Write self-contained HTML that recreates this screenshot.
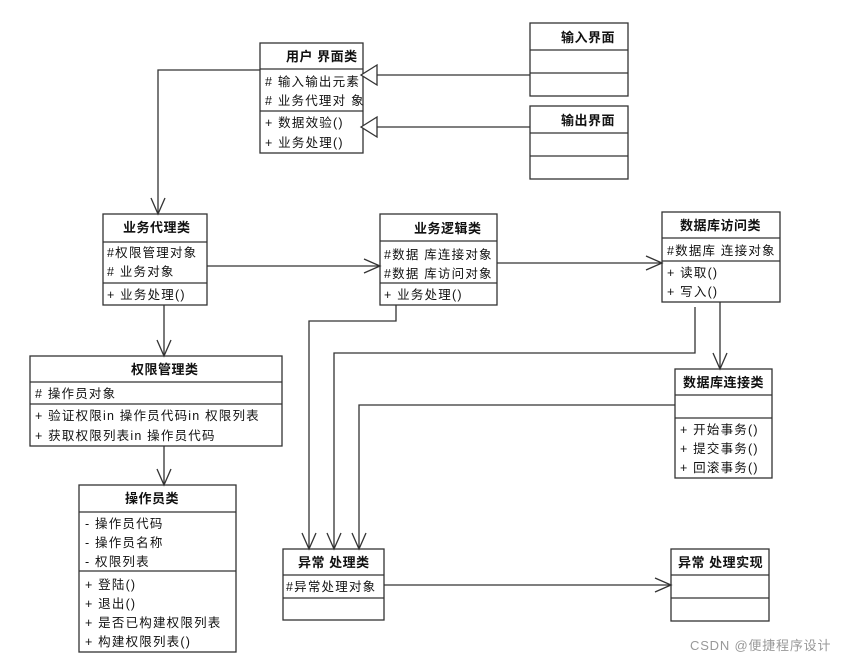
<!DOCTYPE html>
<html><head><meta charset="utf-8"><style>
html,body{margin:0;padding:0;background:#fff;}
svg text{font-family:"Liberation Sans","Noto Sans CJK SC",sans-serif;font-size:12.5px;fill:#111;letter-spacing:1.2px;}
svg text.h{font-weight:bold;font-size:13px;letter-spacing:0.5px;}
</style></head><body>
<svg width="847" height="661" viewBox="0 0 847 661" xmlns="http://www.w3.org/2000/svg">
<g fill="none" stroke="#333" stroke-width="1.3">
<rect x="260" y="43" width="103" height="110"/><line x1="260" y1="69" x2="363" y2="69"/><line x1="260" y1="111" x2="363" y2="111"/>
<rect x="530" y="23" width="98" height="73"/><line x1="530" y1="50" x2="628" y2="50"/><line x1="530" y1="73" x2="628" y2="73"/>
<rect x="530" y="106" width="98" height="73"/><line x1="530" y1="133" x2="628" y2="133"/><line x1="530" y1="156" x2="628" y2="156"/>
<rect x="103" y="214" width="104" height="91"/><line x1="103" y1="242" x2="207" y2="242"/><line x1="103" y1="283" x2="207" y2="283"/>
<rect x="380" y="214" width="117" height="91"/><line x1="380" y1="241" x2="497" y2="241"/><line x1="380" y1="283" x2="497" y2="283"/>
<rect x="662" y="212" width="118" height="90"/><line x1="662" y1="238" x2="780" y2="238"/><line x1="662" y1="261" x2="780" y2="261"/>
<rect x="675" y="369" width="97" height="109"/><line x1="675" y1="395" x2="772" y2="395"/><line x1="675" y1="418" x2="772" y2="418"/>
<rect x="30" y="356" width="252" height="90"/><line x1="30" y1="382" x2="282" y2="382"/><line x1="30" y1="404" x2="282" y2="404"/>
<rect x="79" y="485" width="157" height="167"/><line x1="79" y1="512" x2="236" y2="512"/><line x1="79" y1="571" x2="236" y2="571"/>
<rect x="283" y="549" width="101" height="71"/><line x1="283" y1="575" x2="384" y2="575"/><line x1="283" y1="598" x2="384" y2="598"/>
<rect x="671" y="549" width="98" height="72"/><line x1="671" y1="575" x2="769" y2="575"/><line x1="671" y1="598" x2="769" y2="598"/>
<polyline points="530,75 377,75"/><polygon points="361,75 377,65 377,85" fill="#fff"/>
<polyline points="530,127 377,127"/><polygon points="361,127 377,117 377,137" fill="#fff"/>
<polyline points="260,70 158,70 158,214"/><polyline points="151,198 158,214 165,198"/>
<polyline points="207,266 380,266"/><polyline points="364,259 380,266 364,273"/>
<polyline points="497,263 662,263"/><polyline points="646,256 662,263 646,270"/>
<polyline points="720,302 720,369"/><polyline points="713,353 720,369 727,353"/>
<polyline points="164,305 164,356"/><polyline points="157,340 164,356 171,340"/>
<polyline points="164,446 164,485"/><polyline points="157,469 164,485 171,469"/>
<polyline points="396,305 396,321 309,321 309,549"/><polyline points="302,533 309,549 316,533"/>
<polyline points="695,307 695,353 334,353 334,549"/><polyline points="327,533 334,549 341,533"/>
<polyline points="675,405 359,405 359,549"/><polyline points="352,533 359,549 366,533"/>
<polyline points="384,585 671,585"/><polyline points="655,578 671,585 655,592"/>
</g>
<text class="h" x="286" y="61">用户 界面类</text>
<text x="265" y="86"># 输入输出元素</text>
<text x="265" y="105"># 业务代理对 象</text>
<text x="265" y="127">+ 数据效验()</text>
<text x="265" y="147">+ 业务处理()</text>
<text class="h" x="561" y="42">输入界面</text>
<text class="h" x="561" y="125">输出界面</text>
<text class="h" x="123" y="232">业务代理类</text>
<text x="107" y="257">#权限管理对象</text>
<text x="107" y="276"># 业务对象</text>
<text x="107" y="299">+ 业务处理()</text>
<text class="h" x="414" y="233">业务逻辑类</text>
<text x="384" y="259">#数据 库连接对象</text>
<text x="384" y="278">#数据 库访问对象</text>
<text x="384" y="299">+ 业务处理()</text>
<text class="h" x="680" y="230">数据库访问类</text>
<text x="667" y="255">#数据库 连接对象</text>
<text x="667" y="277">+ 读取()</text>
<text x="667" y="296">+ 写入()</text>
<text class="h" x="683" y="387">数据库连接类</text>
<text x="680" y="434">+ 开始事务()</text>
<text x="680" y="453">+ 提交事务()</text>
<text x="680" y="472">+ 回滚事务()</text>
<text class="h" x="131" y="374">权限管理类</text>
<text x="35" y="398"># 操作员对象</text>
<text x="35" y="420">+ 验证权限in 操作员代码in 权限列表</text>
<text x="35" y="440">+ 获取权限列表in 操作员代码</text>
<text class="h" x="125" y="503">操作员类</text>
<text x="85" y="528">- 操作员代码</text>
<text x="85" y="547">- 操作员名称</text>
<text x="85" y="566">- 权限列表</text>
<text x="85" y="589">+ 登陆()</text>
<text x="85" y="608">+ 退出()</text>
<text x="85" y="627">+ 是否已构建权限列表</text>
<text x="85" y="646">+ 构建权限列表()</text>
<text class="h" x="298" y="567">异常 处理类</text>
<text x="286" y="591">#异常处理对象</text>
<text class="h" x="678" y="567">异常 处理实现</text>
<text x="690" y="650" style="fill:#999;font-size:13px;letter-spacing:0.8px">CSDN @便捷程序设计</text>
</svg>
</body></html>
